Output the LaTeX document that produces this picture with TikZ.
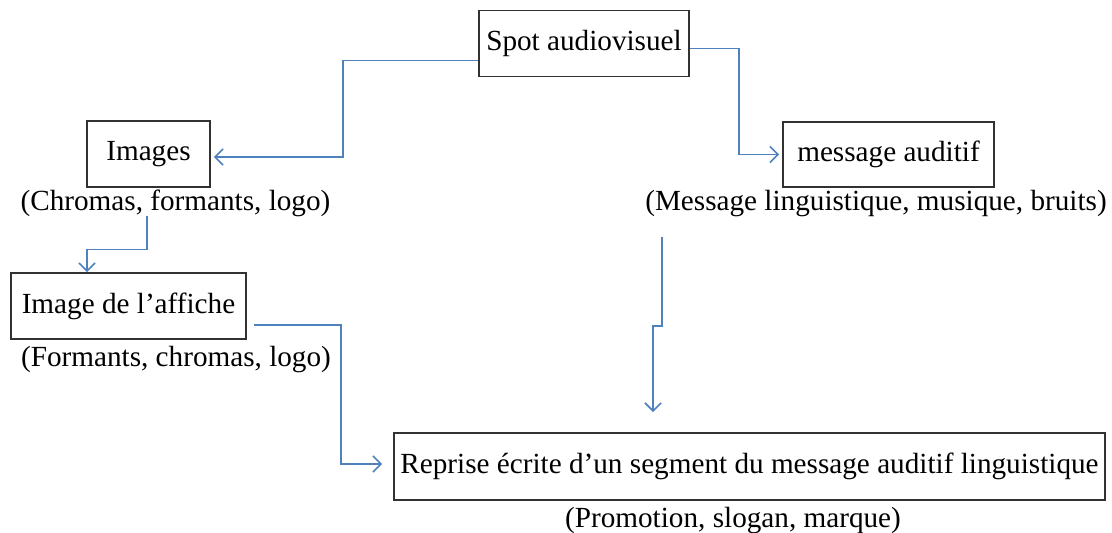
\documentclass[tikz,border=0pt]{standalone}
\usepackage{fontspec}
\setmainfont{Liberation Serif}
\usetikzlibrary{positioning,arrows.meta}
\definecolor{linkblue}{RGB}{79,129,189}
\definecolor{boxgray}{RGB}{50,50,50}

\begin{document}
\begin{tikzpicture}[x=0.5pt, y=-0.5pt,
    font=\fontsize{14.6}{17}\selectfont,
    box/.style={draw=boxgray, line width=0.9pt, inner sep=0pt},
    caption/.style={inner sep=0pt},
    arr/.style={draw=linkblue, line width=0.8pt, -{Straight Barb[length=4pt,width=8pt]}}]
  \useasboundingbox (0,0) rectangle (1112,532);
  % Nodes
  % boxes
  \node[box, minimum width=105pt, minimum height=33pt] (spot) at (584,43.5) {Spot audiovisuel};
  \node[box, minimum width=61.5pt, minimum height=33pt] (images) at (148.5,154) {Images};
  \node[box, minimum width=105.5pt, minimum height=32.5pt] (message) at (888.5,154.5) {message auditif};
  \node[box, minimum width=117.5pt, minimum height=33pt] (affiche) at (128.5,306) {Image de l’affiche};
  \node[box, minimum width=355.5pt, minimum height=33.5pt] (reprise) at (749.5,466.5) {Reprise écrite d’un segment du message auditif linguistique};
  % captions
  \node[caption, below=1pt of images, xshift=13.5pt] (chromas) {(Chromas, formants, logo)};
  \node[caption, below=1pt of message, xshift=-6.25pt] (msgcap) {(Message linguistique, musique, bruits)};
  \node[caption, below=3pt of affiche, xshift=23.75pt] (formants) {(Formants, chromas, logo)};
  \node[caption, below=3pt of reprise, xshift=-8.25pt] (promo) {(Promotion, slogan, marque)};
  \coordinate (m1) at (662,237);
  \coordinate (m2) at (653,412);
  % edges
  \draw[arr] ([yshift=-8.5pt]spot.west) -- ++(-67.5pt,0) |- ([xshift=1.5pt,yshift=-1.5pt]images.east);
  \draw[arr] ([yshift=-2.5pt]spot.east) -- ++(24.5pt,0) |- ([xshift=-1.5pt]message.west);
  \draw[arr] ([xshift=-14.25pt,yshift=1pt]chromas.south) -- ++(0,-17pt) -| ([xshift=-20.75pt]affiche.north);
  \draw[arr] (m1) -- ++(0,-44.5pt) -| (m2);
  \draw[arr] ([xshift=3.5pt,yshift=-9.5pt]affiche.east) -- ++(43.5pt,0) |- ([xshift=-5.5pt,yshift=1.25pt]reprise.west);
\end{tikzpicture}
\end{document}
